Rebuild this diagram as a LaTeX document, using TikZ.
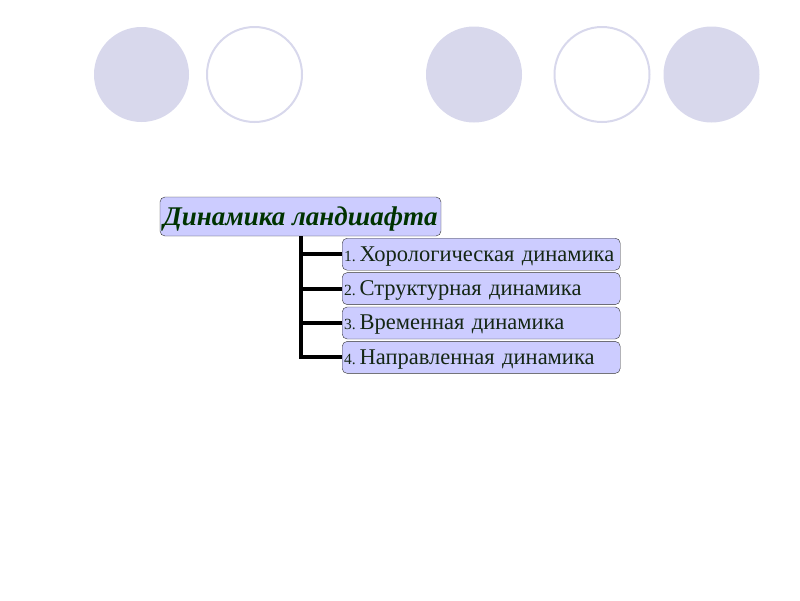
\documentclass[tikz,border=0pt]{standalone}
\usepackage{fontspec}
\setmainfont{Liberation Serif}
\usetikzlibrary{positioning}
\definecolor{disc}{RGB}{216,216,236}
\definecolor{boxfill}{RGB}{204,204,255}
\definecolor{darkgreen}{RGB}{0,51,0}
\definecolor{itemtext}{RGB}{20,38,20}
\tikzset{
	head/.style={draw=black!80, fill=boxfill, rounded corners=5pt, minimum width=281pt, minimum height=39pt, inner sep=1pt, text depth=1pt, text=darkgreen, font=\fontsize{27}{30}\selectfont\bfseries\itshape},
	item/.style={draw=black!80, fill=boxfill, rounded corners=5pt, text width=274pt, align=left, minimum height=32pt, inner xsep=2pt, inner ysep=1pt, text depth=1pt, text=itemtext, font=\fontsize{22.5}{26}\selectfont},
	trunk/.style={line width=4pt}
}
\newcommand{\num}[1]{{\fontsize{15.5}{18}\selectfont #1.}\,}

\begin{document}
\begin{tikzpicture}[x=1pt, y=-1pt]
	\useasboundingbox (0,0) rectangle (800,600);
	% circles on top
	\fill[disc] (141.5,74.5) circle (47.5);
	\draw[disc, line width=2pt] (254.5,74.5) circle (47.5);
	\fill[disc] (474,74.5) circle (48);
	\draw[disc, line width=2pt] (602,74.5) circle (47.5);
	\fill[disc] (711.5,74.5) circle (48);

	\node[head] (title) at (300.5,216.5) {Динамика ландшафта};
	\node[item, anchor=north west] (b1) at (342,238) {\num{1}Хорологическая динамика};
	\node[item, below=2pt of b1] (b2) {\num{2}Структурная динамика};
	\node[item, below=2pt of b2] (b3) {\num{3}Временная динамика};
	\node[item, below=2pt of b3] (b4) {\num{4}Направленная динамика};

	\draw[trunk] (title.south) |- (b4.west);
	\foreach \b in {b1,b2,b3}
		\draw[trunk] (title.south |- \b.west) -- (\b.west);
\end{tikzpicture}
\end{document}
